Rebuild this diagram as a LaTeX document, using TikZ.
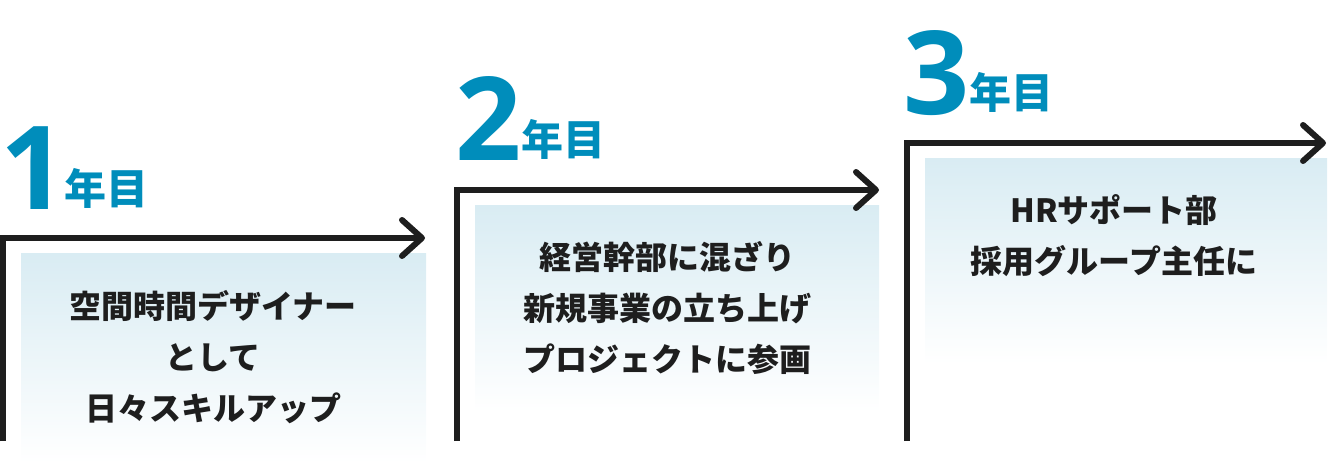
\documentclass[tikz,border=0pt]{standalone}
\usepackage{fontspec}
\setmainfont{Noto Sans CJK JP}
\newfontfamily\numfont{Open Sans}
\usepackage{tikz}
\usetikzlibrary{positioning,arrows.meta}
\definecolor{cerulean}{RGB}{0, 141, 187}
\definecolor{ink}{RGB}{30, 30, 30}
\definecolor{frost}{RGB}{217, 236, 243}
\tikzset{steparrow/.style={-{Straight Barb[length=20pt,width=36pt,round]},line width=6pt,ink,line join=miter}}
\tikzset{yearnum/.style={inner sep=0pt,cerulean,font=\numfont\fontsize{116}{116}\bfseries\selectfont}}
\tikzset{yearlbl/.style={inner sep=0pt,cerulean,font=\fontsize{42}{42}\bfseries\selectfont}}
\tikzset{stepbody/.style={align=center,ink,font=\fontsize{32}{51}\bfseries\selectfont}}
\tikzset{stepshade/.style={top color=frost,bottom color=white}}

\begin{document}
\begin{tikzpicture}[x=1pt,y=-1pt]
	\useasboundingbox (0,0) rectangle (1330,470);

	\shade[stepshade] (21,254) rectangle (426,463);
	\shade[stepshade] (475,206) rectangle (879,412);
	\shade[stepshade] (925,159) rectangle (1327,364);

	\coordinate (foot1) at (3,441);
	\coordinate (tip1) at (425,238);
	\coordinate (foot2) at (457,441);
	\coordinate (tip2) at (879,190);
	\coordinate (foot3) at (907,441);
	\coordinate (tip3) at (1326,143);
	\draw[steparrow] (foot1) |- (tip1);
	\draw[steparrow] (foot2) |- (tip2);
	\draw[steparrow] (foot3) |- (tip3);

	\node[yearnum,anchor=base west] (num1) at (0,210) {1};
	\node[yearlbl,anchor=base west] (yr1) at (64,205) {年目};
	\node[yearnum,anchor=base west] (num2) at (455,161) {2};
	\node[yearlbl,anchor=base west] (yr2) at (521,156) {年目};
	\node[yearnum,anchor=base west] (num3) at (903,115) {3};
	\node[yearlbl,anchor=base west] (yr3) at (969,109) {年目};

	\node[stepbody] (body1) at (213,357) {空間時間デザイナー\\として\\日々スキルアップ};
	\node[stepbody] (body2) at (667,308) {経営幹部に混ざり\\新規事業の立ち上げ\\プロジェクトに参画};
	\node[stepbody] (body3) at (1114,236) {HRサポート部\\採用グループ主任に};
\end{tikzpicture}
\end{document}
